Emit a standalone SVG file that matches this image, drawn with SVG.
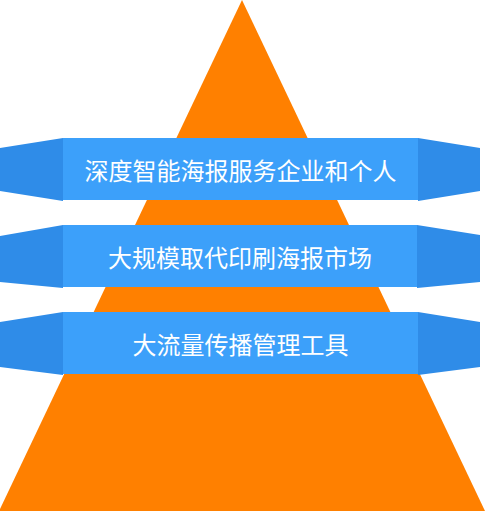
<svg xmlns="http://www.w3.org/2000/svg" width="485" height="511" viewBox="0 0 485 511">
<style>
.wing{fill:#2f8ce8}
.main{fill:#3ca0fa}
.lbl{font-family:"Noto Sans CJK SC","Noto Sans",sans-serif;font-size:24px;fill:#ffffff;text-anchor:middle;dominant-baseline:central}
</style>
<rect width="485" height="511" fill="#ffffff"/>
<g id="pyramid"><polygon points="242,0 -1,511 485,511" fill="#ff8000"/></g>
<g id="banner1">
<polygon class="wing" points="0,148 63,138 63,201 0,191"/>
<polygon class="wing" points="418,138 480,148 480,191 418,201"/>
<rect class="main" x="63" y="138" width="355" height="62"/>
<text class="lbl" x="240.5" y="169">深度智能海报服务企业和个人</text>
</g>
<g id="banner2">
<polygon class="wing" points="0,236 63,225 63,288 0,282"/>
<polygon class="wing" points="417,225 480,235 480,282 417,288"/>
<rect class="main" x="63" y="225" width="354" height="62"/>
<text class="lbl" x="240" y="256">大规模取代印刷海报市场</text>
</g>
<g id="banner3">
<polygon class="wing" points="0,322 63,312 63,375 0,367"/>
<polygon class="wing" points="418,312 480,322 480,367 418,375"/>
<rect class="main" x="63" y="312" width="355" height="62"/>
<text class="lbl" x="240.5" y="343">大流量传播管理工具</text>
</g>
<g id="connectors"/>
</svg>
